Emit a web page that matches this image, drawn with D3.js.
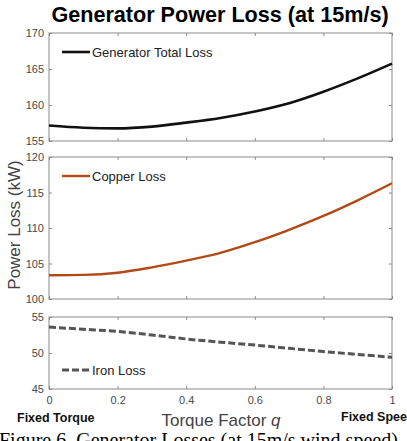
<!DOCTYPE html>
<html>
<head>
<meta charset="utf-8">
<script src="https://cdn.jsdelivr.net/npm/d3@7"></script>
<style>
  body { margin: 0; background: #fff; overflow: hidden; }
  svg { display: block; }
</style>
</head>
<body>
<div id="chart"></div>
<script>
// valores
const qValues = [0, 0.1, 0.2, 0.3, 0.4, 0.5, 0.6, 0.7, 0.8, 0.9, 1.0];
const totalLoss = [157.15, 156.85, 156.75, 157.0, 157.55, 158.2, 159.1, 160.25, 161.85, 163.7, 165.75];
const copperLoss = [103.35, 103.4, 103.7, 104.45, 105.4, 106.5, 108.0, 109.75, 111.7, 113.9, 116.3];
const ironLoss = [53.6, 53.3, 53.0, 52.5, 51.95, 51.5, 51.1, 50.65, 50.2, 49.8, 49.4];

const xTicks = [0, 0.2, 0.4, 0.6, 0.8, 1];

// cada painel: domínio, ticks, cor e estilo
const panels = [
  { name: "Generator Total Loss", values: totalLoss, domain: [155, 170], ticks: [155, 160, 165, 170],
    color: "#111", width: 2.6, dash: null, top: 33, bottom: 141, legendY: 52 },
  { name: "Copper Loss", values: copperLoss, domain: [100, 120], ticks: [100, 105, 110, 115, 120],
    color: "#b24a17", width: 2.4, dash: null, top: 157, bottom: 299, legendY: 176 },
  { name: "Iron Loss", values: ironLoss, domain: [45, 55], ticks: [45, 50, 55],
    color: "#555", width: 3, dash: "7,3", top: 317, bottom: 389, legendY: 370 }
];

const width = 407;
const height = 441;
const left = 49, right = 392;

const svg = d3.select("#chart").append("svg")
  .attr("width", width)
  .attr("height", height)
  .style("font-family", "Arial, 'Liberation Sans', sans-serif");

const x = d3.scaleLinear().domain([0, 1]).range([left, right]);

panels.forEach((p, i) => {
  const y = d3.scaleLinear().domain(p.domain).range([p.bottom, p.top]);
  const g = svg.append("g");

  // moldura
  g.append("rect")
    .attr("x", left).attr("y", p.top)
    .attr("width", right - left).attr("height", p.bottom - p.top)
    .attr("fill", "none").attr("stroke", "#8a8a8a").attr("stroke-width", 1);

  // eixo y (ticks para dentro)
  g.append("g")
    .attr("transform", `translate(${left},0)`)
    .call(d3.axisLeft(y).tickValues(p.ticks).tickSize(-3).tickPadding(6).tickFormat(d3.format("d")))
    .call(a => a.select(".domain").remove())
    .call(a => a.selectAll("line").attr("stroke", "#8a8a8a"))
    .call(a => a.selectAll("text").attr("fill", "#4a4a4a").style("font-size", "11px").attr("x", -5));

  g.append("g")
    .attr("transform", `translate(${right},0)`)
    .call(d3.axisRight(y).tickValues(p.ticks).tickSize(-3).tickFormat(""))
    .call(a => a.select(".domain").remove())
    .call(a => a.selectAll("line").attr("stroke", "#8a8a8a"));

  // ticks de x em cima e embaixo
  g.append("g")
    .attr("transform", `translate(0,${p.bottom})`)
    .call(d3.axisBottom(x).tickValues(xTicks).tickSize(-3).tickPadding(7)
      .tickFormat(i === 2 ? (d => d === 0 || d === 1 ? d : d3.format(".1f")(d)) : ""))
    .call(a => a.select(".domain").remove())
    .call(a => a.selectAll("line").attr("stroke", "#8a8a8a"))
    .call(a => a.selectAll("text").attr("fill", "#4a4a4a").style("font-size", "11px"));

  g.append("g")
    .attr("transform", `translate(0,${p.top})`)
    .call(d3.axisTop(x).tickValues(xTicks).tickSize(-3).tickFormat(""))
    .call(a => a.select(".domain").remove())
    .call(a => a.selectAll("line").attr("stroke", "#8a8a8a"));

  // curva
  const line = d3.line()
    .x((d, j) => x(qValues[j]))
    .y(d => y(d))
    .curve(d3.curveMonotoneX);

  g.append("path")
    .datum(p.values)
    .attr("d", line)
    .attr("fill", "none")
    .attr("stroke", p.color)
    .attr("stroke-width", p.width)
    .attr("stroke-dasharray", p.dash);

  // legenda
  g.append("line")
    .attr("x1", 62).attr("x2", 90)
    .attr("y1", p.legendY).attr("y2", p.legendY)
    .attr("stroke", p.color)
    .attr("stroke-width", p.width)
    .attr("stroke-dasharray", p.dash);

  g.append("text")
    .attr("x", 92).attr("y", p.legendY + 4.5)
    .attr("fill", "#222")
    .style("font-size", "13px")
    .text(p.name);
});

// título
svg.append("text")
  .attr("x", 220).attr("y", 22)
  .attr("text-anchor", "middle")
  .style("font-size", "21.6px")
  .style("font-weight", "bold")
  .attr("fill", "#000")
  .text("Generator Power Loss (at 15m/s)");

// rótulo do eixo y
svg.append("text")
  .attr("transform", "translate(20,225) rotate(-90)")
  .attr("text-anchor", "middle")
  .style("font-size", "17px")
  .attr("fill", "#444")
  .text("Power Loss (kW)");

// rótulo do eixo x
const xl = svg.append("text")
  .attr("x", 221).attr("y", 426)
  .attr("text-anchor", "middle")
  .style("font-size", "17px")
  .attr("fill", "#444");
xl.append("tspan").text("Torque Factor ");
xl.append("tspan").style("font-style", "italic").text("q");

svg.append("text")
  .attr("x", 17).attr("y", 422)
  .style("font-size", "12.5px").style("font-weight", "bold")
  .attr("fill", "#111")
  .text("Fixed Torque");

svg.append("text")
  .attr("x", 341).attr("y", 421)
  .style("font-size", "12.5px").style("font-weight", "bold")
  .attr("fill", "#111")
  .text("Fixed Speed");

// legenda da figura (cortada embaixo, como no original)
svg.append("text")
  .attr("x", -1).attr("y", 447)
  .style("font-family", "'Liberation Serif', 'DejaVu Serif', serif")
  .style("font-size", "20px")
  .attr("fill", "#000")
  .text("Figure 6. Generator Losses (at 15m/s wind speed)");
</script>
</body>
</html>
